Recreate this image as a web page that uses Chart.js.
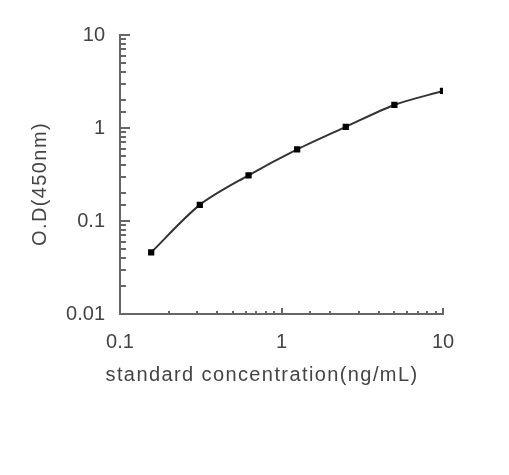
<!DOCTYPE html>
<html>
<head>
<meta charset="utf-8">
<script src="https://cdn.jsdelivr.net/npm/chart.js@4/dist/chart.umd.min.js"></script>
<style>
  html, body { margin: 0; padding: 0; background: #fff; }
  canvas { display: block; }
</style>
</head>
<body>
<canvas id="myChart" width="509" height="475"></canvas>
<script>
// standard curve values
const concentrations = [0.156, 0.312, 0.625, 1.25, 2.5, 5, 10];
const odValues = [0.046, 0.149, 0.31, 0.59, 1.03, 1.77, 2.5];
const xTickLabels = [0.1, 1, 10];
const yTickLabels = [0.01, 0.1, 1, 10];
const xTitle = 'standard concentration(ng/mL)';
const yTitle = 'O.D(450nm)';

const isMajor = (v, list) => list.some(t => Math.abs(t - v) / t < 1e-6);
const fontFamily = 'Liberation Sans, Arial, sans-serif';

// tick marks point into the plot, like the original
const innerTicks = {
  id: 'innerTicks',
  afterDraw(chart) {
    const c = chart.ctx;
    const xs = chart.scales.x, ys = chart.scales.y;
    const area = chart.chartArea;
    c.save();
    c.strokeStyle = '#666';
    c.lineWidth = 2;
    ys.ticks.forEach(t => {
      const py = Math.round(ys.getPixelForValue(t.value));
      const len = isMajor(t.value, yTickLabels) ? 10 : 6;
      c.beginPath();
      c.moveTo(area.left, py);
      c.lineTo(area.left + len, py);
      c.stroke();
    });
    xs.ticks.forEach(t => {
      const px = Math.round(xs.getPixelForValue(t.value));
      const len = isMajor(t.value, xTickLabels) ? 6 : 3;
      c.beginPath();
      c.moveTo(px, area.bottom + 1);
      c.lineTo(px, area.bottom - len);
      c.stroke();
    });
    c.restore();
  }
};

// axis titles sit a bit left / low of the plot centre in the original
const axisTitles = {
  id: 'axisTitles',
  afterDraw(chart) {
    const c = chart.ctx;
    c.save();
    c.fillStyle = '#444';
    c.font = '20px ' + fontFamily;
    c.letterSpacing = '1.4px';
    c.textAlign = 'center';
    c.textBaseline = 'middle';
    c.fillText(xTitle, 262, 375);
    c.translate(40, 184);
    c.rotate(-Math.PI / 2);
    c.fillText(yTitle, 0, 0);
    c.restore();
  }
};

const tickFont = { family: fontFamily, size: 20 };

const ctx = document.getElementById('myChart').getContext('2d');
new Chart(ctx, {
  type: 'line',
  data: {
    datasets: [{
      data: concentrations.map((x, i) => ({ x: x, y: odValues[i] })),
      borderColor: '#333',
      borderWidth: 2,
      tension: 0.3,
      pointStyle: 'rect',
      pointRadius: 3,
      pointBackgroundColor: '#000',
      pointBorderColor: '#000',
      fill: false
    }]
  },
  plugins: [innerTicks, axisTitles],
  options: {
    responsive: false,
    animation: false,
    layout: { padding: { left: 0, right: 66, top: 35, bottom: 0 } },
    plugins: { legend: { display: false }, tooltip: { enabled: false } },
    scales: {
      x: {
        type: 'logarithmic',
        min: 0.1,
        max: 10,
        afterFit: s => { s.height = 161; },
        grid: { drawOnChartArea: false, drawTicks: false },
        border: { color: '#666', width: 2 },
        ticks: {
          autoSkip: false,
          maxRotation: 0,
          padding: 16,
          color: '#444',
          font: tickFont,
          callback: v => isMajor(v, xTickLabels) ? String(Number(v.toPrecision(3))) : ''
        }
      },
      y: {
        type: 'logarithmic',
        min: 0.01,
        max: 10,
        afterFit: s => { s.width = 120; },
        grid: { drawOnChartArea: false, drawTicks: false },
        border: { color: '#666', width: 2 },
        ticks: {
          autoSkip: false,
          padding: 15,
          color: '#444',
          font: tickFont,
          callback: v => isMajor(v, yTickLabels) ? String(Number(v.toPrecision(3))) : ''
        }
      }
    }
  }
});
</script>
</body>
</html>
